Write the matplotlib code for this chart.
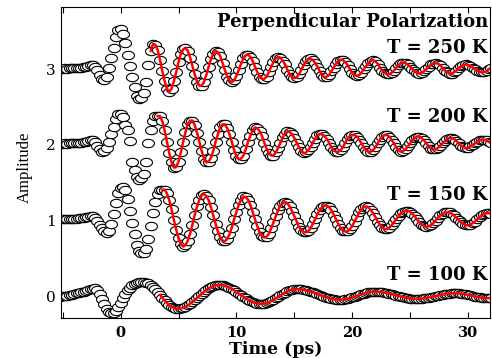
import numpy as np
import matplotlib
matplotlib.use('Agg')
import matplotlib.pyplot as plt
from matplotlib.path import Path
from matplotlib.ticker import MultipleLocator

# delay-stage grid (ps)
time_ps = np.round(np.arange(-5.2, 32.01, 0.2), 1)

# 250 K trace (offset 3)
amp_250K = [
    3.00, 3.00, 3.01, 3.00, 3.01, 3.01, 3.01, 3.02, 3.02, 3.02,
    3.03, 3.03, 3.04, 3.05, 3.05, 3.03, 2.99, 2.92, 2.87, 2.86,
    2.90, 3.01, 3.14, 3.28, 3.42, 3.52, 3.53, 3.46, 3.34, 3.19,
    3.04, 2.90, 2.76, 2.65, 2.60, 2.62, 2.68, 2.83, 3.05, 3.24,
    3.33,
    3.32, 3.25, 3.12, 2.97, 2.84, 2.74, 2.70, 2.74, 2.84, 2.96, 3.09, 3.20, 3.26, 3.28,
    3.24, 3.15, 3.04, 2.93, 2.83, 2.78, 2.78, 2.83, 2.92, 3.03, 3.13, 3.20, 3.24,
    3.22, 3.17, 3.08, 2.99, 2.90, 2.85, 2.83, 2.85, 2.91, 2.99, 3.07, 3.14, 3.18, 3.19,
    3.16, 3.11, 3.03, 2.96, 2.90, 2.87, 2.87, 2.90, 2.96, 3.03, 3.09, 3.14, 3.16,
    3.15, 3.11, 3.06, 2.99, 2.93, 2.89, 2.88, 2.89, 2.93, 2.99, 3.05, 3.10, 3.13, 3.14,
    3.12, 3.08, 3.03, 2.97, 2.92, 2.89, 2.90, 2.92, 2.97, 3.02, 3.07, 3.11, 3.12,
    3.12, 3.09, 3.05, 3.00, 2.95, 2.92, 2.91, 2.92, 2.95, 3.00, 3.04, 3.08, 3.11, 3.12,
    3.10, 3.07, 3.02, 2.98, 2.95, 2.93, 2.93, 2.95, 2.98, 3.02, 3.05, 3.08, 3.08,
    3.08, 3.06, 3.03, 3.00, 2.97, 2.95, 2.94, 2.95, 2.97, 3.00, 3.03, 3.06, 3.07, 3.08,
    3.07, 3.05, 3.02, 2.98, 2.96, 2.94, 2.94, 2.96, 2.98, 3.01, 3.04, 3.05, 3.06,
    3.05, 3.04, 3.02, 3.00, 2.98, 2.96, 2.96, 2.96, 2.97, 3.00, 3.02,
]

# 200 K trace (offset 2)
amp_200K = [
    2.01, 2.01, 2.02, 2.01, 2.02, 2.02, 2.02, 2.02, 2.03, 2.03,
    2.04, 2.04, 2.05, 2.06, 2.06, 2.04, 1.99, 1.94, 1.91, 1.92,
    1.96, 2.04, 2.14, 2.24, 2.34, 2.41, 2.41, 2.37, 2.26, 2.19,
    2.05, 1.78, 1.67, 1.58, 1.54, 1.56, 1.62, 1.78, 2.02, 2.20,
    2.32, 2.38,
    2.38, 2.38, 2.31, 2.19, 2.04, 1.89, 1.77, 1.70, 1.71, 1.78, 1.90, 2.04, 2.17, 2.27,
    2.32, 2.32, 2.26, 2.16, 2.04, 1.92, 1.82, 1.77, 1.78, 1.83, 1.92, 2.04, 2.14, 2.23,
    2.27, 2.27, 2.22, 2.14, 2.04, 1.93, 1.85, 1.81, 1.82, 1.86, 1.94, 2.04, 2.12, 2.19,
    2.23, 2.22, 2.18, 2.12, 2.03, 1.95, 1.89, 1.86, 1.86, 1.90, 1.96, 2.03, 2.10, 2.15,
    2.18, 2.17, 2.14, 2.09, 2.03, 1.97, 1.92, 1.89, 1.90, 1.93, 1.97, 2.03, 2.08, 2.13,
    2.14, 2.14, 2.12, 2.08, 2.03, 1.97, 1.93, 1.91, 1.91, 1.93, 1.97, 2.03, 2.08, 2.12,
    2.13, 2.13, 2.11, 2.07, 2.02, 1.97, 1.93, 1.91, 1.91, 1.93, 1.97, 2.02, 2.07, 2.11,
    2.13, 2.13, 2.11, 2.07, 2.02, 1.97, 1.93, 1.91, 1.92, 1.94, 1.98, 2.02, 2.06, 2.09,
    2.11, 2.11, 2.09, 2.06, 2.02, 1.98, 1.95, 1.94, 1.94, 1.96, 1.99, 2.02, 2.05, 2.08,
    2.09, 2.09, 2.08, 2.05, 2.02, 1.99, 1.97, 1.96, 1.96, 1.98, 2.00, 2.02, 2.04, 2.06,
    2.07, 2.07, 2.06, 2.04, 2.02,
]

# 150 K trace (offset 1)
amp_150K = [
    1.02, 1.02, 1.03, 1.02, 1.03, 1.03, 1.03, 1.03, 1.04, 1.04,
    1.04, 1.05, 1.05, 1.06, 1.06, 1.04, 1.00, 0.95, 0.90, 0.86,
    0.84, 0.87, 0.96, 1.09, 1.24, 1.37, 1.43, 1.44, 1.40, 1.29,
    1.13, 0.97, 0.82, 0.68, 0.60, 0.57, 0.58, 0.63, 0.76, 0.93,
    1.10, 1.25, 1.35, 1.40,
    1.41, 1.41, 1.36, 1.27, 1.15, 1.01, 0.88, 0.77, 0.69, 0.66, 0.68, 0.74,
    0.83, 0.95, 1.08, 1.19, 1.28, 1.34, 1.35, 1.33, 1.27, 1.18, 1.07, 0.96,
    0.86, 0.78, 0.74, 0.73, 0.76, 0.82, 0.91, 1.02, 1.12, 1.21, 1.28,
    1.32, 1.31, 1.28, 1.21, 1.12, 1.02, 0.93, 0.85, 0.80, 0.78, 0.79, 0.83,
    0.90, 0.98, 1.06, 1.14, 1.20, 1.23, 1.25, 1.23, 1.19, 1.13, 1.06, 0.99,
    0.92, 0.88, 0.85, 0.85, 0.86, 0.90, 0.96, 1.02, 1.09, 1.14, 1.18,
    1.20, 1.20, 1.18, 1.14, 1.08, 1.02, 0.96, 0.91, 0.87, 0.86, 0.86, 0.89,
    0.93, 0.99, 1.05, 1.11, 1.15, 1.18, 1.19, 1.18, 1.14, 1.10, 1.05, 0.99,
    0.95, 0.91, 0.89, 0.89, 0.91, 0.94, 0.98, 1.02, 1.06, 1.10, 1.12,
    1.13, 1.13, 1.12, 1.09, 1.06, 1.02, 0.98, 0.95, 0.93, 0.92, 0.93, 0.94,
    0.97, 1.00, 1.04, 1.07, 1.09, 1.11, 1.11, 1.11, 1.09, 1.07, 1.04, 1.01,
    0.98, 0.96, 0.94, 0.94, 0.95, 0.97, 0.99, 1.02, 1.05, 1.08, 1.09,
    1.10, 1.10, 1.09,
]

# 100 K trace (offset 0)
amp_100K = [
    0.000, 0.005, 0.010, 0.015, 0.020, 0.028, 0.035, 0.045, 0.050, 0.058,
    0.065, 0.075, 0.085, 0.095, 0.105, 0.110, 0.090, 0.040, -0.030, -0.100,
    -0.160, -0.200, -0.220, -0.220, -0.190, -0.140, -0.080, -0.020, 0.040, 0.090,
    0.120, 0.150, 0.170, 0.180, 0.190, 0.190, 0.190,
    0.186, 0.174, 0.154, 0.128, 0.097, 0.062, 0.024, -0.013, -0.050, -0.083,
    -0.112, -0.135, -0.151, -0.159,
    -0.159, -0.155, -0.145, -0.131, -0.114, -0.093, -0.069, -0.043, -0.016,
    0.011, 0.038, 0.064, 0.088, 0.109, 0.126, 0.140, 0.150, 0.154,
    0.155, 0.151, 0.143, 0.132, 0.118, 0.102, 0.083, 0.062, 0.041,
    0.019, -0.002, -0.023, -0.042, -0.058, -0.072, -0.083, -0.091, -0.095,
    -0.095, -0.091, -0.083, -0.072, -0.057, -0.040, -0.022, -0.003,
    0.017, 0.036, 0.054, 0.070, 0.083, 0.092, 0.098, 0.100,
    0.099, 0.096, 0.091, 0.085, 0.076, 0.067, 0.056, 0.045, 0.033,
    0.021, 0.010, -0.002, -0.012, -0.021, -0.028, -0.034, -0.038, -0.040,
    -0.040, -0.038, -0.034, -0.027, -0.020, -0.011, -0.001, 0.010,
    0.020, 0.031, 0.040, 0.049, 0.056, 0.061, 0.064, 0.065,
    0.064, 0.062, 0.058, 0.053, 0.047, 0.040, 0.032, 0.024, 0.015,
    0.007, -0.001, -0.009, -0.015, -0.021, -0.025, -0.028, -0.030,
    -0.030, -0.029, -0.026, -0.022, -0.018, -0.012, -0.006, 0.001, 0.008,
    0.014, 0.021, 0.027, 0.033, 0.037, 0.041, 0.044, 0.045,
    0.045, 0.043, 0.040, 0.035, 0.030, 0.023, 0.016, 0.009,
    0.002, -0.005, -0.010, -0.015, -0.018, -0.020, -0.020, -0.019,
]

traces = [amp_100K, amp_150K, amp_200K, amp_250K]
fit_start = [3.4, 3.6, 3.2, 2.6]
temp_labels = ['T = 100 K', 'T = 150 K', 'T = 200 K', 'T = 250 K']
label_y = [0.122, 0.379, 0.630, 0.852]

fig = plt.figure(figsize=(4.92, 3.58), dpi=100)
ax = fig.add_axes([0.124, 0.112, 0.872, 0.869])

# open markers look squashed in the original
theta = np.linspace(0, 2 * np.pi, 41)
ellipse = Path(np.column_stack([np.cos(theta), 0.7 * np.sin(theta)]))

for amp in traces:
    ax.plot(time_ps, amp, ls='none', marker=ellipse, ms=8.6,
            mfc='white', mec='black', mew=0.8)

for amp, t0 in zip(traces, fit_start):
    amp = np.asarray(amp)
    m = time_ps >= t0 - 1e-6
    ax.plot(time_ps[m], amp[m], color='red', lw=1.8, zorder=5)

serif = 'DejaVu Serif'
for lab, y in zip(temp_labels, label_y):
    ax.text(0.995, y, lab, transform=ax.transAxes, ha='right', va='baseline',
            fontsize=13, fontweight='bold', family=serif)
ax.text(0.995, 0.934, 'Perpendicular Polarization', transform=ax.transAxes,
        ha='right', va='baseline', fontsize=13, fontweight='bold', family=serif)

ax.set_xlim(-5.15, 31.9)
ax.set_ylim(-0.28, 3.82)
ax.xaxis.set_major_locator(MultipleLocator(10))
ax.xaxis.set_minor_locator(MultipleLocator(5))
ax.set_yticks([0, 1, 2, 3])
ax.tick_params(axis='x', which='both', direction='in', top=True, length=4, width=0.8, pad=6)
ax.tick_params(axis='y', direction='in', length=4, width=0.8, pad=4)
for lb in ax.get_xticklabels():
    lb.set_fontfamily(serif)
    lb.set_fontweight('bold')
    lb.set_fontsize(10.5)
for lb in ax.get_yticklabels():
    lb.set_fontfamily(serif)
    lb.set_fontsize(11)
for s in ax.spines.values():
    s.set_linewidth(0.8)

fig.text(275.5 / 492, 1 - 349 / 358, 'Time (ps)', ha='center', va='center',
         fontsize=12.5, fontweight='bold', family=serif)
fig.text(25 / 492, 1 - 167 / 358, 'Amplitude', rotation=90, ha='center', va='center',
         fontsize=12, family='Liberation Serif')

fig.savefig('out.png', dpi=100)
